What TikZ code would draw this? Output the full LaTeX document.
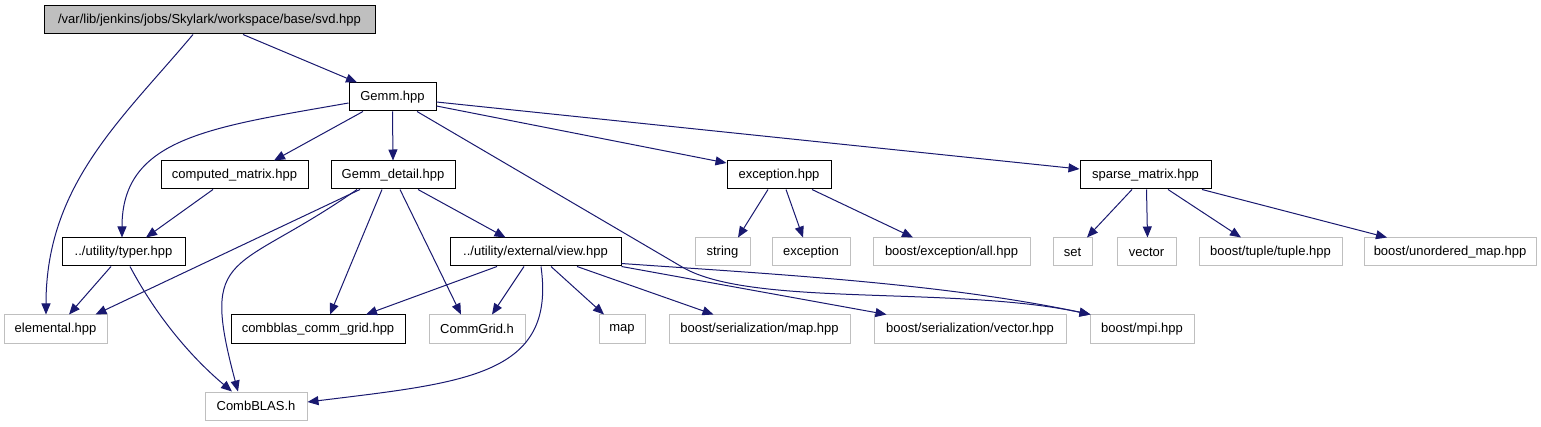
\documentclass[tikz,border=0pt]{standalone}
\usepackage{fontspec}
\setmainfont{Liberation Sans}
\usetikzlibrary{arrows.meta}

\definecolor{edgeblue}{HTML}{191970}
\definecolor{boxgray}{HTML}{BFBFBF}

\tikzset{
  file/.style={draw=black,line width=1pt,fill=white,minimum height=28pt,
               inner sep=0pt,font=\fontsize{13}{15}\selectfont},
  sysfile/.style={file,draw=boxgray},
  rootfile/.style={file,fill=boxgray},
  dep/.style={draw=edgeblue,line width=1pt,
              -{Triangle[length=11pt,width=9pt]}}
}

\begin{document}
\begin{tikzpicture}[x=1pt,y=1pt]
  \fill[white](0,0) rectangle (1541,-427);
  \useasboundingbox (0,0) rectangle (1541,-427);
  % first rows
  \node[rootfile,minimum width=331pt](root) at (209.5,-20){/var/lib/jenkins/jobs/Skylark/workspace/base/svd.hpp};
  \node[file,minimum width=87pt](gemm) at (392.5,-97){Gemm.hpp};
  \node[file,minimum width=147pt](computed) at (234.5,-175){computed\_matrix.hpp};
  \node[file,minimum width=124pt](gemmdetail) at (393,-175){Gemm\_detail.hpp};
  \node[file,minimum width=104pt](exchpp) at (779,-175){exception.hpp};
  \node[file,minimum width=131pt](sparse) at (1145.5,-175){sparse\_matrix.hpp};
  \node[file,minimum width=123pt](typer) at (123.5,-252){../utility/typer.hpp};
  \node[file,minimum width=171pt](view) at (535.5,-252){../utility/external/view.hpp};
  \node[sysfile,minimum width=55pt](string) at (722.5,-252){string};
  \node[sysfile,minimum width=78pt](exceptionstd) at (811,-252){exception};
  \node[sysfile,minimum width=157pt](exall) at (951.5,-252){boost/exception/all.hpp};
  \node[sysfile,minimum width=39pt](set) at (1072.5,-252){set};
  \node[sysfile,minimum width=59pt](vector) at (1146.5,-252){vector};
  \node[sysfile,minimum width=143pt](tuple) at (1270.5,-252){boost/tuple/tuple.hpp};
  \node[sysfile,minimum width=172pt](umap) at (1450,-252){boost/unordered\_map.hpp};
  % lower rows
  \node[sysfile,minimum width=103pt](elemental) at (55.5,-329){elemental.hpp};
  \node[file,minimum width=174pt](cbgrid) at (318,-329){combblas\_comm\_grid.hpp};
  \node[sysfile,minimum width=96pt](commgrid) at (477,-329){CommGrid.h};
  \node[sysfile,minimum width=46pt](map) at (622,-329){map};
  \node[sysfile,minimum width=181pt](sermap) at (759.5,-329){boost/serialization/map.hpp};
  \node[sysfile,minimum width=192pt](servec) at (970,-329){boost/serialization/vector.hpp};
  \node[sysfile,minimum width=104pt](mpi) at (1142,-329){boost/mpi.hpp};
  \node[sysfile,minimum width=102pt](combblas) at (256,-406){CombBLAS.h};
  % edges
  \draw[dep]([xshift=-16.5pt]root.south) .. controls +(-130:110) and +(90:130) .. ([xshift=-9.5pt]elemental.north);
  \draw[dep]([xshift=33.5pt]root.south) -- ([xshift=-35.5pt]gemm.north);
  \draw[dep]([yshift=-6pt]gemm.west) .. controls +(190:140) and +(90:100) .. ([xshift=-1.5pt]typer.north);
  \draw[dep]([xshift=-29.5pt]gemm.south) -- ([xshift=39.5pt]computed.north);
  \draw[dep](gemm.south) -- (gemmdetail.north);
  \draw[dep]([yshift=-9pt]gemm.east) -- ([yshift=12pt]exchpp.west);
  \draw[dep]([yshift=-5pt]gemm.east) -- ([yshift=6pt]sparse.west);
  \draw[dep]([xshift=24.5pt]gemm.south) -- ++(266,-156)
       .. controls +(-30:80) and +(168:140) .. ([xshift=1pt]mpi.north west);
  \draw[dep]([xshift=-21.5pt]computed.south) -- ([xshift=22.5pt]typer.north);
  \draw[dep]([xshift=-12.5pt]typer.south) -- ([xshift=13.5pt]elemental.north);
  \draw[dep]([xshift=6.5pt]typer.south) .. controls +(-62:60) and +(140:50) .. ([xshift=-24pt]combblas.north);
  \draw[dep]([xshift=-33pt]gemmdetail.south) -- ([xshift=40pt]elemental.north);
  \draw[dep]([xshift=-36pt]gemmdetail.south) .. controls +(215:150) and +(105:150) .. ([xshift=-18pt]combblas.north);
  \draw[dep]([xshift=-11pt]gemmdetail.south) -- ([xshift=12pt]cbgrid.north);
  \draw[dep]([xshift=7pt]gemmdetail.south) -- ([xshift=-16pt]commgrid.north);
  \draw[dep]([xshift=25pt]gemmdetail.south) -- ([xshift=-30pt]view.north);
  \draw[dep]([xshift=-38.5pt]view.south) -- ([xshift=48pt]cbgrid.north);
  \draw[dep]([xshift=-11.5pt]view.south) -- ([xshift=15pt]commgrid.north);
  \draw[dep]([xshift=5.5pt]view.south) .. controls +(-82:110) and +(7:160) .. ([yshift=4pt]combblas.east);
  \draw[dep]([xshift=15.5pt]view.south) -- ([xshift=-18pt]map.north);
  \draw[dep]([xshift=41.5pt]view.south) -- ([xshift=-46pt]sermap.north);
  \draw[dep](view.south east) -- ([xshift=13pt]servec.north west);
  \draw[dep]([yshift=3pt]view.south east) .. controls +(-4:150) and +(168:150) .. ([xshift=1pt]mpi.north west);
  \draw[dep]([xshift=-11pt]exchpp.south) -- ([xshift=15.5pt]string.north);
  \draw[dep]([xshift=7pt]exchpp.south) -- ([xshift=-8pt]exceptionstd.north);
  \draw[dep]([xshift=33pt]exchpp.south) -- ([xshift=-38.5pt]exall.north);
  \draw[dep]([xshift=-13.5pt]sparse.south) -- ([xshift=14.5pt]set.north);
  \draw[dep]([xshift=1pt]sparse.south) -- ([xshift=1pt]vector.north);
  \draw[dep]([xshift=22.5pt]sparse.south) -- ([xshift=-29.5pt]tuple.north);
  \draw[dep]([xshift=56.5pt]sparse.south) -- ([xshift=-63pt]umap.north);
\end{tikzpicture}
\end{document}
